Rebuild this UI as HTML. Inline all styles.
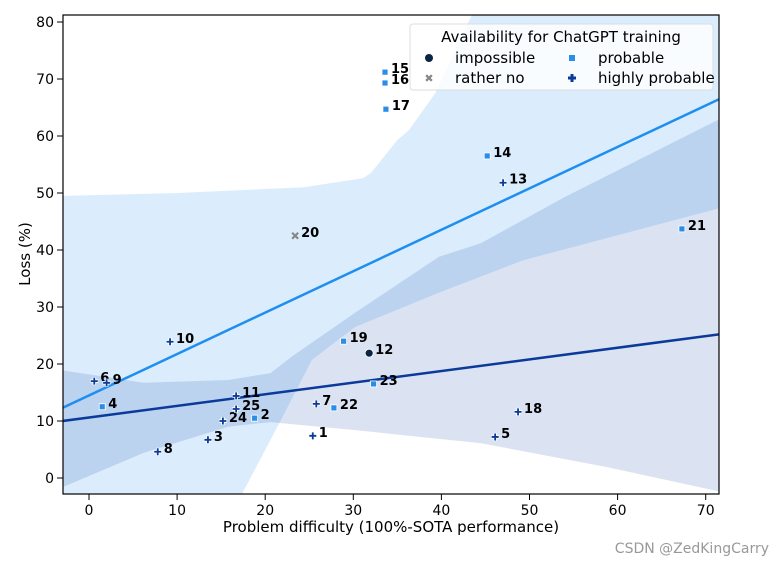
<!DOCTYPE html>
<html><head><meta charset="utf-8"><style>
body{margin:0;background:#fff}
svg{display:block;font-family:"DejaVu Sans","Liberation Sans",sans-serif}
</style></head><body>
<svg id="c" width="784" height="566">
<defs><clipPath id="pa"><rect x="63" y="15" width="656" height="479"/></clipPath></defs>
<g id="bands" clip-path="url(#pa)"></g>
<g id="lines" clip-path="url(#pa)"></g>
<g id="pts"></g>
<g id="axes"></g>
<rect x="63" y="15" width="656" height="479" fill="none" stroke="#000" stroke-width="1.2"/>
<g>
<rect x="410" y="24" width="303" height="66" rx="3" fill="#fff" fill-opacity="0.8" stroke="#ddd"/>
<text x="561" y="42" text-anchor="middle" font-size="15">Availability for ChatGPT training</text>
<circle cx="429" cy="58" r="4" fill="#0b2545"/><text x="455" y="63" font-size="15">impossible</text>
<text x="429" y="82" font-size="11" fill="#888" text-anchor="middle" font-weight="bold">✖</text><text x="455" y="83" font-size="15">rather no</text>
<rect x="569" y="55" width="6" height="6" fill="#2a8ee8"/><text x="598" y="63" font-size="15">probable</text>
<path d="M568 78h8M572 74v8" stroke="#0a3a9a" stroke-width="3"/><text x="598" y="83" font-size="15">highly probable</text>
</g>
<text x="391" y="532" text-anchor="middle" font-size="15">Problem difficulty (100%-SOTA performance)</text>
<text transform="translate(30,254) rotate(-90)" text-anchor="middle" font-size="15">Loss (%)</text>
<text x="769" y="553" text-anchor="end" font-size="14" fill="#999">CSDN @ZedKingCarry</text>
</svg>
<script>
const ids=[1,2,3,4,5,6,7,8,9,10,11,12,13,14,15,16,17,18,19,20,21,22,23,24,25];
const difficulty=[25.4,18.8,13.5,1.5,46.1,0.6,25.8,7.8,2.0,9.2,16.7,31.8,47.0,45.2,33.6,33.6,33.7,48.7,28.9,23.4,67.3,27.8,32.3,15.2,16.7];
const loss=[7.4,10.5,6.7,12.5,7.2,17.0,13.0,4.6,16.7,23.9,14.4,21.9,51.8,56.5,71.2,69.3,64.7,11.6,24.0,42.5,43.7,12.3,16.5,10.0,12.1];
const availability=["h","p","h","p","h","h","h","h","h","h","h","i","h","p","p","p","p","h","p","r","p","p","p","h","h"];
const xTicks=[0,10,20,30,40,50,60,70];
const yTicks=[0,10,20,30,40,50,60,70,80];
const lineX=[-3,72];
const lightLineY=[12.3,66.8];
const darkLineY=[10.0,25.3];
const lightUpX=[-3,10,24.4,31.1,32,35,36.3,39.3,44,72];
const lightUpY=[49.5,50,51,52.6,53.5,59.3,61,67.5,83,83];
const lightLoX=[-3,17.3,21.6,25.3,30.2,39.7,49.3,72];
const lightLoY=[-3,-3,9.6,20.7,26.5,32.5,38.2,47.5];
const darkUpX=[-3,6.2,15.8,20.6,23,30.2,39.7,44.5,54,72];
const darkUpY=[18.9,16.7,17.2,18.4,21.3,29,38.8,41.2,49.3,63.3];
const darkLoX=[-3,6.2,15.8,20.6,30.2,44.5,58.8,72];
const darkLoY=[-1.6,4.4,9,9.8,8.4,6.1,1.9,-2.5];
const X=v=>89+v*8.81, Y=v=>478-v*5.7;
const NS="http://www.w3.org/2000/svg";
function mk(t,a,p){const e=document.createElementNS(NS,t);for(const k in a)e.setAttribute(k,a[k]);p.appendChild(e);return e;}
function band(ux,uy,lx,ly){let d="M"+ux.map((x,i)=>X(x)+","+Y(uy[i])).join("L");for(let i=lx.length-1;i>=0;i--)d+="L"+X(lx[i])+","+Y(ly[i]);return d+"Z";}
const B=document.getElementById("bands");
let b1=mk("path",{d:band(lightUpX,lightUpY,lightLoX,lightLoY),fill:"rgba(33,145,240,0.16)"},B);


let b2=mk("path",{d:band(darkUpX,darkUpY,darkLoX,darkLoY),fill:"rgba(0,56,160,0.14)"},B);


const L=document.getElementById("lines");
let l1=mk("line",{x1:X(lineX[0]),y1:Y(lightLineY[0]),x2:X(lineX[1]),y2:Y(lightLineY[1]),stroke:"#1e8ef0","stroke-width":2.5},L);


let l2=mk("line",{x1:X(lineX[0]),y1:Y(darkLineY[0]),x2:X(lineX[1]),y2:Y(darkLineY[1]),stroke:"#0a3a9a","stroke-width":2.5},L);


const A=document.getElementById("axes");
xTicks.forEach(v=>{const g=mk("g",{},A);


mk("line",{x1:X(v),x2:X(v),y1:494,y2:500,stroke:"#000"},g);const t=mk("text",{x:X(v),y:515,"text-anchor":"middle","font-size":14},g);t.textContent=v;});
yTicks.forEach(v=>{const g=mk("g",{},A);


mk("line",{x1:57,x2:63,y1:Y(v),y2:Y(v),stroke:"#000"},g);const t=mk("text",{x:54,y:Y(v)+5,"text-anchor":"end","font-size":14},g);t.textContent=v;});
const P=document.getElementById("pts");
ids.forEach((id,i)=>{const x=X(difficulty[i]),y=Y(loss[i]),a=availability[i];const g=mk("g",{},P);


if(a=="h"){mk("path",{d:`M${x-4} ${y}h8M${x} ${y-4}v8`,stroke:"#fff","stroke-width":3.5},g);mk("path",{d:`M${x-3.5} ${y}h7M${x} ${y-3.5}v7`,stroke:"#0a3a9a","stroke-width":1.8},g);}
else if(a=="p"){mk("rect",{x:x-3,y:y-3,width:6,height:6,fill:"#2a8ee8",stroke:"#fff","stroke-width":0.8},g);}
else if(a=="i"){mk("circle",{cx:x,cy:y,r:4,fill:"#0b2545",stroke:"#fff","stroke-width":0.8},g);}
else{mk("path",{d:`M${x-3} ${y-3}l6 6M${x+3} ${y-3}l-6 6`,stroke:"#888","stroke-width":2.2},g);}
const t=mk("text",{x:x+6,y:y+1,"font-size":13,"font-weight":"bold"},g);t.textContent=id;});
</script>
</body></html>
